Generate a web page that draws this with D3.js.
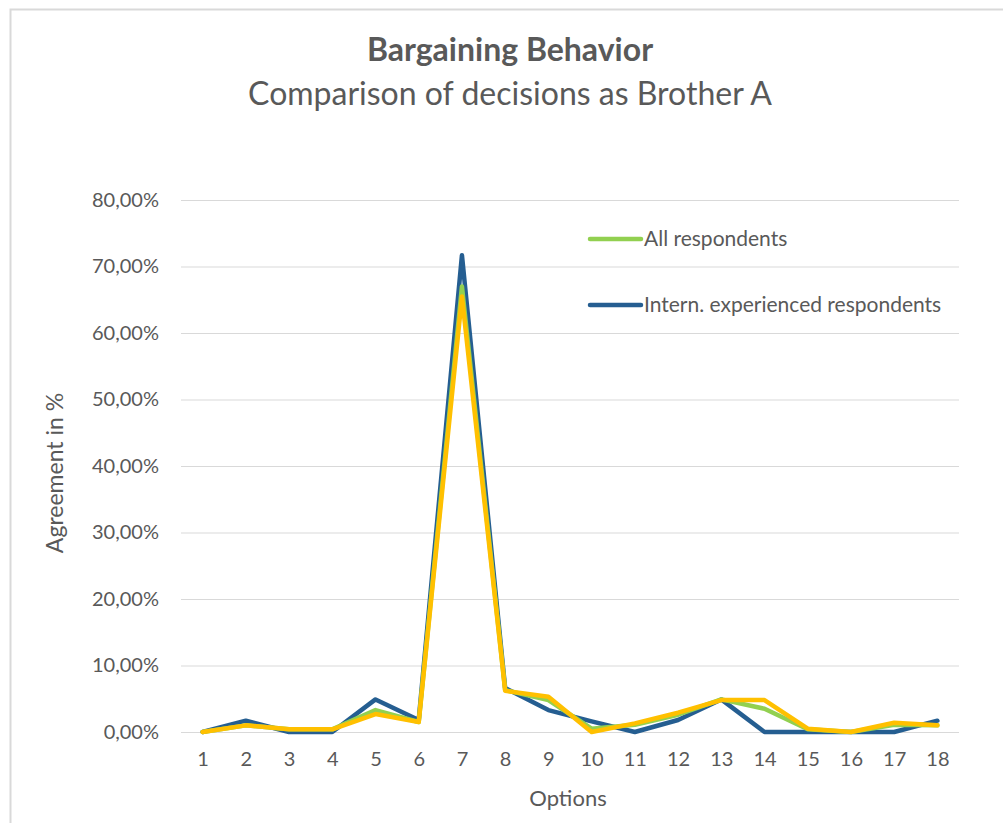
<!DOCTYPE html>
<html>
<head>
<meta charset="utf-8">
<script src="https://cdn.jsdelivr.net/npm/d3@7"></script>
<style>
  body { margin: 0; background: #fff; }
  svg { display: block; font-family: Lato, "Open Sans", sans-serif; }
</style>
</head>
<body>
<svg width="1003" height="823"></svg>
<script>
// data (percent)
var options = ["1","2","3","4","5","6","7","8","9","10","11","12","13","14","15","16","17","18"];
var allResp = [0, 1.0, 0.4, 0.4, 3.3, 1.5, 67.0, 6.3, 4.8, 0.5, 1.1, 2.6, 4.9, 3.5, 0.4, 0, 1.1, 1.0];
var internResp = [0, 1.7, 0, 0, 4.9, 1.8, 71.7, 6.6, 3.3, 1.6, 0, 1.8, 4.9, 0, 0, 0, 0, 1.7];
var thirdResp = [0, 1.0, 0.4, 0.4, 2.7, 1.5, 65.5, 6.2, 5.3, 0, 1.3, 2.9, 4.8, 4.8, 0.5, 0, 1.4, 1.0];
var yTicks = [0, 10, 20, 30, 40, 50, 60, 70, 80];

var series = [
  {name: "All respondents", values: allResp, color: "#92d050", legend: true},
  {name: "Intern. experienced respondents", values: internResp, color: "#255e91", legend: true},
  {name: "", values: thirdResp, color: "#ffc000", legend: false}
];

var svg = d3.select("svg");
var textColor = "#595959";

// chart border
svg.append("rect")
  .attr("x", 10.5).attr("y", 9.5)
  .attr("width", 1010).attr("height", 830)
  .attr("fill", "none").attr("stroke", "#d9d9d9").attr("stroke-width", 2);

var x = d3.scalePoint().domain(options).range([181, 959]).padding(0.5);
var y = d3.scaleLinear().domain([0, 80]).range([732, 200]);

// titles
svg.append("text").attr("x", 510).attr("y", 61)
  .attr("text-anchor", "middle").attr("font-size", 32).attr("font-weight", "bold")
  .attr("fill", textColor).text("Bargaining Behavior");
svg.append("text").attr("x", 510).attr("y", 105)
  .attr("text-anchor", "middle").attr("font-size", 32)
  .attr("fill", textColor).text("Comparison of decisions as Brother A");

// y grid + labels
var yAxis = svg.append("g").attr("transform", "translate(181,0)")
  .call(d3.axisLeft(y).tickValues(yTicks)
    .tickSize(-778).tickPadding(22)
    .tickFormat(function(d) { return d3.format(".2f")(d).replace(".", ",") + "%"; }));
yAxis.select(".domain").remove();
yAxis.selectAll(".tick line").attr("stroke", "#d9d9d9").attr("stroke-width", 1);
yAxis.selectAll(".tick text").attr("fill", textColor).attr("font-size", 20)
  .attr("font-family", "Lato, sans-serif");

// x labels
var xAxis = svg.append("g").attr("transform", "translate(0,732)")
  .call(d3.axisBottom(x).tickSize(0).tickPadding(20));
xAxis.select(".domain").remove();
xAxis.selectAll(".tick text").attr("fill", textColor).attr("font-size", 20)
  .attr("font-family", "Lato, sans-serif");

// axis titles
svg.append("text").attr("x", 568).attr("y", 806)
  .attr("text-anchor", "middle").attr("font-size", 22)
  .attr("fill", textColor).text("Options");
svg.append("text")
  .attr("transform", "translate(63,473) rotate(-90)")
  .attr("text-anchor", "middle").attr("font-size", 23)
  .attr("fill", textColor).text("Agreement in %");

// lines
var line = d3.line()
  .x(function(d, i) { return x(options[i]); })
  .y(function(d) { return y(d); });

var drawOrder = [series[1], series[0], series[2]];
svg.append("g").selectAll("path")
  .data(drawOrder)
  .enter().append("path")
    .attr("d", function(d) { return line(d.values); })
    .attr("fill", "none")
    .attr("stroke", function(d) { return d.color; })
    .attr("stroke-width", 4.5)
    .attr("stroke-linejoin", "round")
    .attr("stroke-linecap", "round");

// legend
var legend = svg.append("g").selectAll("g")
  .data(series.filter(function(d) { return d.legend; }))
  .enter().append("g")
    .attr("transform", function(d, i) { return "translate(590," + (239 + i * 66) + ")"; });
legend.append("line")
  .attr("x1", 0).attr("x2", 51).attr("y1", 0).attr("y2", 0)
  .attr("stroke", function(d) { return d.color; })
  .attr("stroke-width", 4.5).attr("stroke-linecap", "round");
legend.append("text")
  .attr("x", 54).attr("y", 0).attr("dy", "0.35em")
  .attr("font-size", 21).attr("fill", textColor)
  .text(function(d) { return d.name; });
</script>
</body>
</html>
